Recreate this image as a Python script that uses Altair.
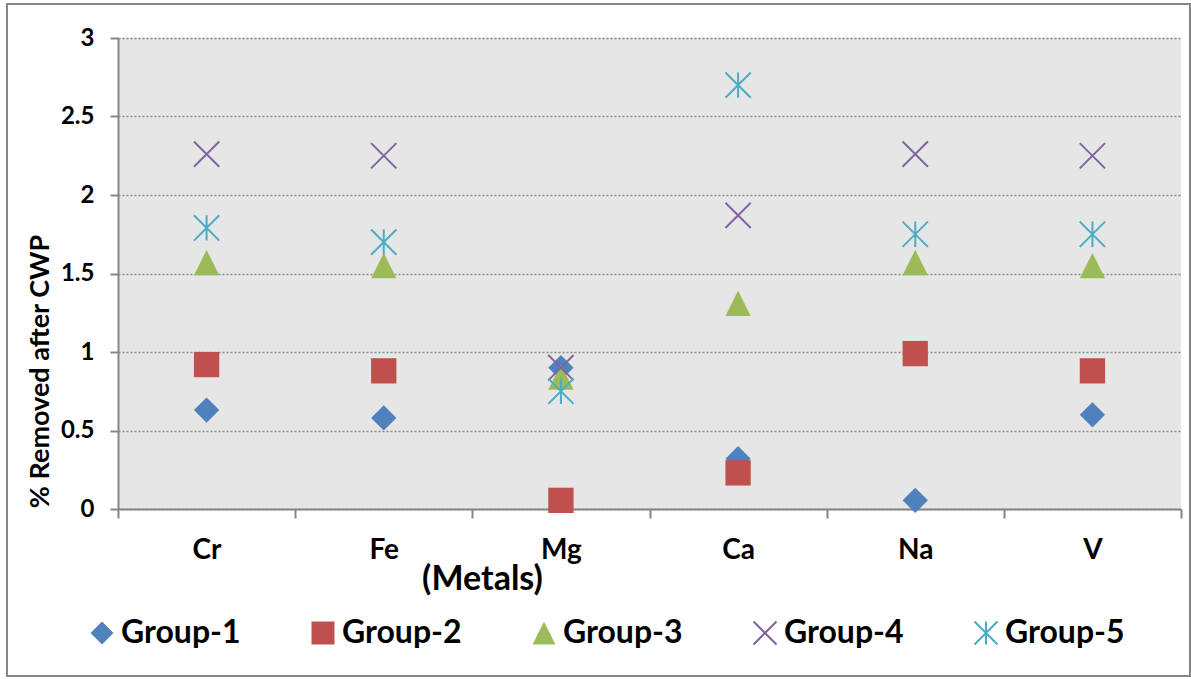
import altair as alt
import pandas as pd

# Metals on the x axis, one series per treatment group
metals = ["Cr", "Fe", "Mg", "Ca", "Na", "V"]
groups = ["Group-1", "Group-2", "Group-3", "Group-4", "Group-5"]

group_1 = [0.63, 0.58, 0.90, 0.32, 0.055, 0.60]
group_2 = [0.92, 0.88, 0.055, 0.23, 0.99, 0.88]
group_3 = [1.57, 1.55, 0.84, 1.31, 1.57, 1.55]
group_4 = [2.26, 2.25, 0.90, 1.87, 2.26, 2.25]
group_5 = [1.79, 1.70, 0.75, 2.70, 1.75, 1.75]

y_ticks = [0, 0.5, 1, 1.5, 2, 2.5, 3]

colors = ["#4F81BD", "#C0504D", "#9BBB59", "#8064A2", "#4BACC6"]
shapes = [
    "diamond",
    "square",
    "M0,-1L1,1L-1,1Z",                      # triangle
    "M-1,-1L1,1M-1,1L1,-1",                 # x
    "M-1,-1L1,1M-1,1L1,-1M0,-1L0,1",        # star
]
fills = colors[:3] + ["transparent", "transparent"]
strokes = ["transparent", "transparent", "transparent"] + colors[3:]

series = [group_1, group_2, group_3, group_4, group_5]
rows = []
for g, vals in zip(groups, series):
    for m, v in zip(metals, vals):
        rows.append({"metal": m, "group": g, "value": v})
df = pd.DataFrame(rows)

FONT = "Lato"
GRAY = "#868686"

legend = alt.Legend(
    title=None,
    orient="none",
    direction="horizontal",
    columns=5,
    gridAlign="all",
    legendX=-32,
    legendY=579,
    labelFont=FONT,
    labelFontWeight="bold",
    labelFontSize=32,
    labelColor="#000000",
    labelOffset=3,
    columnPadding=66,
    symbolSize=529,
    symbolStrokeWidth=2,
)

points = alt.Chart(df).mark_point(opacity=1, strokeWidth=2, size=640).encode(
    x=alt.X(
        "metal:N",
        sort=metals,
        scale=alt.Scale(type="band", paddingInner=0, paddingOuter=0),
        axis=alt.Axis(
            title="(Metals)",
            titleFont=FONT,
            titleFontWeight="bold",
            titleFontSize=34,
            titleColor="#000000",
            titleX=364,
            titleY=80,
            titleAlign="center",
            titleBaseline="alphabetic",
            labelAngle=0,
            labelFont=FONT,
            labelFontWeight="bold",
            labelFontSize=28,
            labelColor="#000000",
            labelPadding=18,
            tickBand="extent",
            ticks=True,
            tickSize=9,
            tickColor=GRAY,
            tickWidth=2,
            domainColor=GRAY,
            domainWidth=2,
            grid=False,
        ),
    ),
    y=alt.Y(
        "value:Q",
        scale=alt.Scale(domain=[0, 3], nice=False),
        axis=alt.Axis(
            title="% Removed after CWP",
            titleFont=FONT,
            titleFontWeight="bold",
            titleFontSize=27,
            titleColor="#000000",
            titleAngle=-90,
            titleX=-78,
            titleY=333,
            titleAlign="center",
            titleBaseline="middle",
            values=y_ticks,
            format="~g",
            labelFont=FONT,
            labelFontWeight="bold",
            labelFontSize=24,
            labelColor="#000000",
            labelPadding=16,
            tickSize=8,
            tickColor=GRAY,
            tickWidth=2,
            domainColor=GRAY,
            domainWidth=2,
            grid=True,
            gridColor="#8A8A8A",
            gridDash=[2, 2],
            gridWidth=1.3,
        ),
    ),
    shape=alt.Shape("group:N", scale=alt.Scale(domain=groups, range=shapes), legend=legend),
    fill=alt.Fill("group:N", scale=alt.Scale(domain=groups, range=fills), legend=legend),
    stroke=alt.Stroke("group:N", scale=alt.Scale(domain=groups, range=strokes), legend=legend),
)

# thin frame around the whole figure
frame = alt.Chart(pd.DataFrame({"k": [0]})).mark_rect(
    fillOpacity=0, stroke=GRAY, strokeWidth=2
).encode(
    x=alt.value(-111), x2=alt.value(1072), y=alt.value(-34), y2=alt.value(638)
)

chart = alt.layer(frame, points).properties(
    width=1063,
    height=471,
    autosize=alt.AutoSizeParams(type="none"),
    padding={"left": 118, "top": 38, "right": 10, "bottom": 170},
    background="#FFFFFF",
).configure_view(fill="#E6E6E6", strokeWidth=0)

chart.save("out.html", embed_options={"renderer": "svg", "actions": False})
